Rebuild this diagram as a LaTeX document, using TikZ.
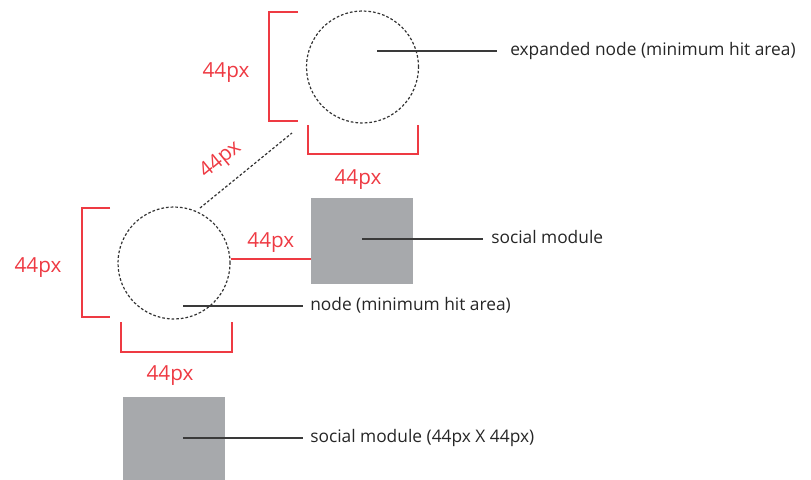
\documentclass[tikz,border=0pt]{standalone}
\usepackage{fontspec}
\setmainfont{Open Sans}
\usetikzlibrary{calc, positioning}
\definecolor{dimred}{HTML}{EE3A43}
\definecolor{modulegray}{HTML}{A7A9AC}
\definecolor{leadergray}{HTML}{3A3A3A}

\begin{document}
\begin{tikzpicture}[
    x=0.75pt, y=-0.75pt,
    hitarea/.style={draw=black!80, dashed, dash pattern=on 2pt off 1.5pt, line width=0.9pt, circle, minimum size=84pt, inner sep=0pt},
    module/.style={fill=modulegray, draw=none, minimum width=76.5pt, minimum height=64pt, inner sep=0pt},
    bracket/.style={draw=dimred, line width=1.1pt},
    dimlabel/.style={text=dimred, font=\fontsize{15.5}{17}\selectfont, inner sep=1pt},
    leader/.style={draw=leadergray, line width=1.3pt},
    caption/.style={text=black!85, font=\fontsize{13}{15}\selectfont, anchor=base west, inner sep=0pt}
]
    \useasboundingbox (0,0) rectangle (811,479);

    % Expanded node (top)
    \node[hitarea] (expanded) at (362.5,67) {};
    \draw[bracket] (298,12) -- (269,12) -- (269,121) -- (298,121);
    \draw[bracket] (308,125) -- (308,154) -- (418,154) -- (418,125);
    \node[dimlabel, anchor=base] (exph) at (226,77) {44px};
    \node[dimlabel, anchor=base] (expw) at (358,184) {44px};

    % Node (left)
    \node[hitarea] (hit) at (174,263) {};
    \draw[bracket] (110,208) -- (82,208) -- (82,317) -- (110,317);
    \draw[bracket] (121,322) -- (121,352) -- (232,352) -- (232,322);
    \node[dimlabel, anchor=base] (hith) at (38,272) {44px};
    \node[dimlabel, anchor=base] (hitw) at (170,380) {44px};

    % Diagonal spacing between node and expanded node
    \coordinate (diagA) at (200,208);
    \coordinate (diagB) at (292,133);
    \draw[dashed, dash pattern=on 2pt off 1.5pt, line width=0.9pt, black!80] (diagA) -- (diagB)
        node[pos=0.39, sloped, above=9pt, dimlabel] {44px};

    % Social modules
    \node[module, anchor=north west] (social) at (311,198) {};
    \node[module, anchor=north west, minimum height=62pt] (socialsmall) at (123,397) {};

    % Spacing node to module
    \draw[bracket] (hit.east |- 0,259) -- (social.west |- 0,259)
        node[midway, anchor=base, yshift=9pt, dimlabel] {44px};

    % Captions
    \node[caption] (expcap) at (510,55.5) {expanded node (minimum hit area)};
    \node[caption] (socialcap) at (491,243.5) {social module};
    \node[caption] (hitcap) at (310,310.5) {node (minimum hit area)};
    \node[caption] (smallcap) at (310,442.5) {social module (44px X 44px)};

    % Leader lines
    \coordinate (socialend) at ($(socialcap.base west)+(-8,-4.5)$);
    \coordinate (smallend) at ($(smallcap.base west)+(-7,-4.5)$);
    \draw[leader] ($(expanded.center)+(14.5,-16)$) -- ($(expcap.base west)+(-13,-4.5)$);
    \draw[leader] (social.center |- socialend) -- (socialend);
    \draw[leader] ($(hit.center)+(9,43)$) -- ($(hitcap.base west)+(-7,-4.5)$);
    \draw[leader] ($(socialsmall.center |- smallend)+(9,0)$) -- (smallend);

\end{tikzpicture}
\end{document}
